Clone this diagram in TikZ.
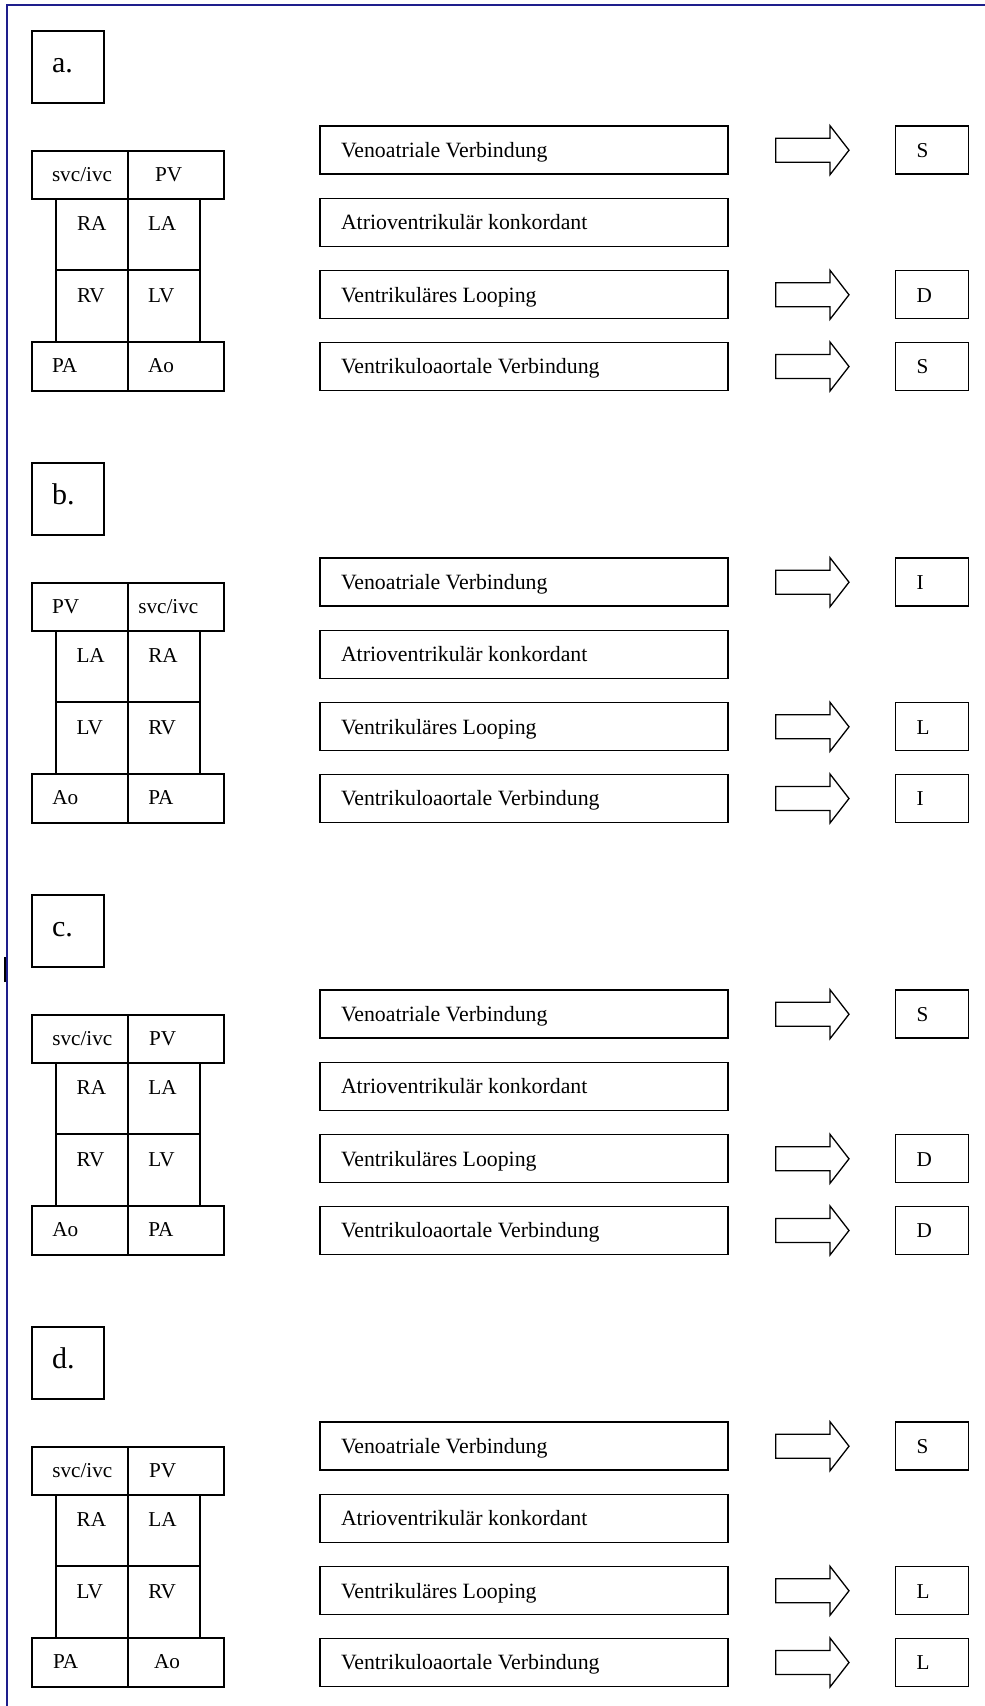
\documentclass[tikz,border=0pt]{standalone}
\usepackage{fontspec}
\setmainfont{Liberation Serif}
\definecolor{framenavy}{RGB}{30,30,140}
\tikzset{
  box/.style={draw=black, line width=1.5pt, inner sep=0pt, outer sep=0pt, anchor=north west},
  txt/.style={anchor=base west, inner sep=0pt, outer sep=0pt, font=\fontsize{21.2}{25}\selectfont},
  desc/.style={anchor=base west, inner sep=0pt, outer sep=0pt, font=\fontsize{21.8}{26}\selectfont},
  lbl/.style={anchor=base west, inner sep=0pt, outer sep=0pt, font=\fontsize{30}{36}\selectfont},
  arrowline/.style={draw=black, line width=1.3pt, line join=miter},
  blockarr/.pic={\draw[arrowline] (0,-12) -- (54.3,-12) -- (54.3,-24.5) -- (73.3,0) -- (54.3,24.5) -- (54.3,12) -- (0,12) -- cycle;}
}
\newcommand\panelframe[2]{%
  \node[box, minimum width=72pt, minimum height=72pt] (#1-lab) at (32,31) {};
  \node[lbl] (#1-labtxt) at (52,72) {#2};
  % heart grid
  \node[box, minimum width=96pt, minimum height=48pt] (#1-t1) at (32,151) {};
  \node[box, minimum width=96pt, minimum height=48pt] (#1-t2) at (128,151) {};
  \node[box, minimum width=72pt, minimum height=71pt] (#1-m1) at (56,199) {};
  \node[box, minimum width=72pt, minimum height=71pt] (#1-m2) at (128,199) {};
  \node[box, minimum width=72pt, minimum height=72pt] (#1-m3) at (56,270) {};
  \node[box, minimum width=72pt, minimum height=72pt] (#1-m4) at (128,270) {};
  \node[box, minimum width=96pt, minimum height=49pt] (#1-b1) at (32,342) {};
  \node[box, minimum width=96pt, minimum height=49pt] (#1-b2) at (128,342) {};
  % description boxes
  \node[box, minimum width=408pt, minimum height=48pt] (#1-v1) at (320,126) {};
  \node[box, minimum width=408pt, minimum height=48pt] (#1-v2) at (320,198.5) {};
  \node[box, minimum width=408pt, minimum height=48pt] (#1-v3) at (320,270.7) {};
  \node[box, minimum width=408pt, minimum height=48pt] (#1-v4) at (320,342.5) {};
  \node[desc] (#1-v1t) at (341,157) {Venoatriale Verbindung};
  \node[desc] (#1-v2t) at (341,229.5) {Atrioventrikulär konkordant};
  \node[desc] (#1-v3t) at (341,302) {Ventrikuläres Looping};
  \node[desc] (#1-v4t) at (341,373.5) {Ventrikuloaortale Verbindung};
  % arrows
  \pic at (775.7,150.2) {blockarr};
  \pic at (775.7,294.8) {blockarr};
  \pic at (775.7,366.5) {blockarr};
  % result boxes
  \node[box, minimum width=72.6pt, minimum height=48pt] (#1-r1) at (895.7,126) {};
  \node[box, minimum width=72.6pt, minimum height=48pt] (#1-r3) at (895.7,270.7) {};
  \node[box, minimum width=72.6pt, minimum height=48pt] (#1-r4) at (895.7,342.5) {};
}
\begin{document}
\begin{tikzpicture}[x=1pt, y=-1pt]
\useasboundingbox (0,0) rectangle (985,1706);
\fill[white] (0,0) rectangle (985,1706);
% page frame
\draw[framenavy, line width=2pt, line join=miter] (6.5,1706) -- (6.5,5) -- (985,5);
\draw[black, line width=2.5pt] (5,957) -- (5,982);

% ---- panel a
\begin{scope}
\panelframe{a}{a.}
\node[txt] (a-c1) at (52,181) {svc/ivc};
\node[txt] (a-c2) at (155,181) {PV};
\node[txt] (a-c3) at (77,230) {RA};
\node[txt] (a-c4) at (148,230) {LA};
\node[txt] (a-c5) at (77,302) {RV};
\node[txt] (a-c6) at (148,302) {LV};
\node[txt] (a-c7) at (52,372) {PA};
\node[txt] (a-c8) at (148,372) {Ao};
\node[txt] (a-s1) at (916.7,157.5) {S};
\node[txt] (a-s3) at (916.7,302) {D};
\node[txt] (a-s4) at (916.7,373.5) {S};
\end{scope}

% ---- panel b
\begin{scope}[shift={(0,432)}]
\panelframe{b}{b.}
\node[txt] (b-c1) at (52,181) {PV};
\node[txt] (b-c2) at (138.3,181) {svc/ivc};
\node[txt] (b-c3) at (76.5,230) {LA};
\node[txt] (b-c4) at (148.3,230) {RA};
\node[txt] (b-c5) at (76.5,302) {LV};
\node[txt] (b-c6) at (148.3,302) {RV};
\node[txt] (b-c7) at (52.3,372) {Ao};
\node[txt] (b-c8) at (148.3,372) {PA};
\node[txt] (b-s1) at (916.7,157.5) {I};
\node[txt] (b-s3) at (916.7,302) {L};
\node[txt] (b-s4) at (916.7,373.5) {I};
\end{scope}

% ---- panel c
\begin{scope}[shift={(0,864)}]
\panelframe{c}{c.}
\node[txt] (c-c1) at (52.3,181) {svc/ivc};
\node[txt] (c-c2) at (149,181) {PV};
\node[txt] (c-c3) at (76.7,230) {RA};
\node[txt] (c-c4) at (148.3,230) {LA};
\node[txt] (c-c5) at (76.7,302) {RV};
\node[txt] (c-c6) at (148.3,302) {LV};
\node[txt] (c-c7) at (52.3,372) {Ao};
\node[txt] (c-c8) at (148.3,372) {PA};
\node[txt] (c-s1) at (916.7,157.5) {S};
\node[txt] (c-s3) at (916.7,302) {D};
\node[txt] (c-s4) at (916.7,373.5) {D};
\end{scope}

% ---- panel d
\begin{scope}[shift={(0,1296)}]
\panelframe{d}{d.}
\node[txt] (d-c1) at (52.3,181) {svc/ivc};
\node[txt] (d-c2) at (149,181) {PV};
\node[txt] (d-c3) at (76.7,230) {RA};
\node[txt] (d-c4) at (148.3,230) {LA};
\node[txt] (d-c5) at (76.7,302) {LV};
\node[txt] (d-c6) at (148.3,302) {RV};
\node[txt] (d-c7) at (53,372) {PA};
\node[txt] (d-c8) at (154,372) {Ao};
\node[txt] (d-s1) at (916.7,157.5) {S};
\node[txt] (d-s3) at (916.7,302) {L};
\node[txt] (d-s4) at (916.7,373.5) {L};
\end{scope}
\end{tikzpicture}
\end{document}
